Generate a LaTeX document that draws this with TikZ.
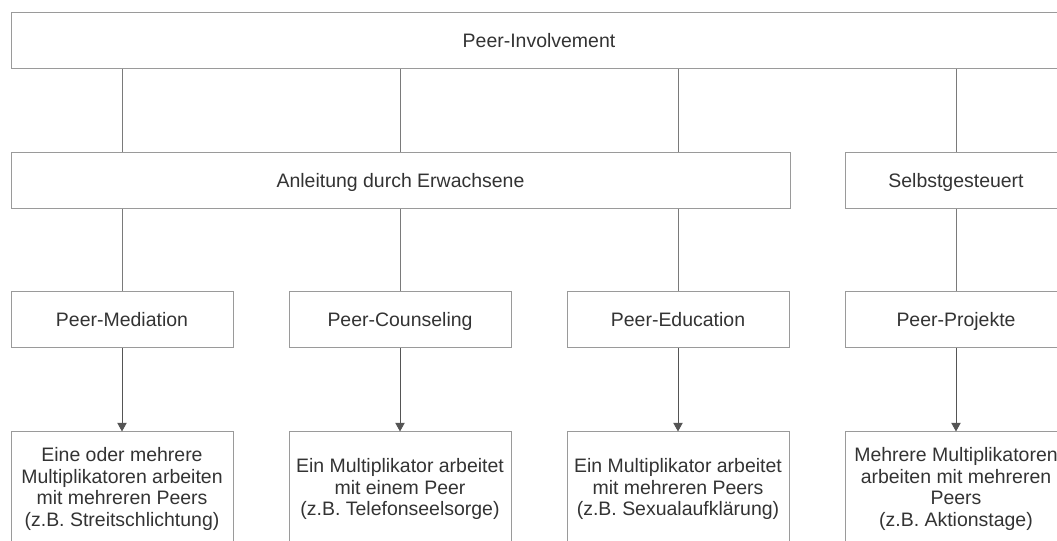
\documentclass[tikz,border=0pt]{standalone}
\usepackage{fontspec}
\setmainfont{Liberation Sans}
\usepackage{xcolor}
\usetikzlibrary{arrows.meta,positioning,calc}

\definecolor{boxline}{HTML}{9A9A9A}
\definecolor{conline}{HTML}{7A7A7A}
\definecolor{txtgray}{HTML}{333333}

\begin{document}
\begin{tikzpicture}[
  x=0.75pt, y=-0.75pt,
  box/.style={draw=boxline, line width=0.75pt, minimum height=42pt, inner sep=0pt,
    text=txtgray, font=\fontsize{14.6}{16.1}\selectfont, align=center},
  lvl/.style={box, text height=12pt, text depth=2pt},
  descbox/.style={box, minimum width=166.5pt, minimum height=85.5pt},
  lnk/.style={draw=conline, line width=0.75pt},
  arr/.style={lnk, -{Triangle[length=6.5pt, width=7pt]}, conline!70!black},
]
  \useasboundingbox (0,0) rectangle (1057,541);
  \clip (0,0) rectangle (1057,541);

  % levels
  \node[lvl, minimum width=792pt] (pinv) at (539,41) {Peer-Involvement};
  \node[lvl, minimum width=584.25pt] (anleit) at (400.5,181) {Anleitung durch Erwachsene};
  \node[lvl, minimum width=166.5pt] (selbst) at (956,181) {Selbstgesteuert};

  % forms
  \node[lvl, minimum width=166.5pt] (med) at (122,320) {Peer-Mediation};
  \node[lvl, minimum width=166.5pt, right=41.25pt of med] (couns) {Peer-Counseling};
  \node[lvl, minimum width=166.5pt, right=41.25pt of couns] (edu) {Peer-Education};
  \node[lvl, minimum width=166.5pt, right=41.25pt of edu] (proj) {Peer-Projekte};

  % descriptions
  \node[descbox] (dmed) at (122,489) {Eine oder mehrere\\Multiplikatoren arbeiten\\mit mehreren Peers\\(z.B. Streitschlichtung)};
  \node[descbox] (dcouns) at (400,489) {Ein Multiplikator arbeitet\\mit einem Peer\\(z.B. Telefonseelsorge)};
  \node[descbox] (dedu) at (678,489) {Ein Multiplikator arbeitet\\mit mehreren Peers\\(z.B. Sexualaufklärung)};
  \node[descbox] (dproj) at (956,489) {Mehrere Multiplikatoren\\arbeiten mit mehreren\\Peers\\(z.B. Aktionstage)};

  % top level to second level
  \foreach \f/\t in {med/anleit, couns/anleit, edu/anleit, proj/selbst}
    \draw[lnk] (pinv.south -| \f.north) -- (\t.north -| \f.north);

  % second level to forms
  \foreach \f/\t in {med/anleit, couns/anleit, edu/anleit, proj/selbst}
    \draw[lnk] (\t.south -| \f.north) -- (\f.north);

  % forms to descriptions
  \foreach \f in {med, couns, edu, proj}
    \draw[arr] (\f.south) -- (d\f.north);
\end{tikzpicture}
\end{document}
